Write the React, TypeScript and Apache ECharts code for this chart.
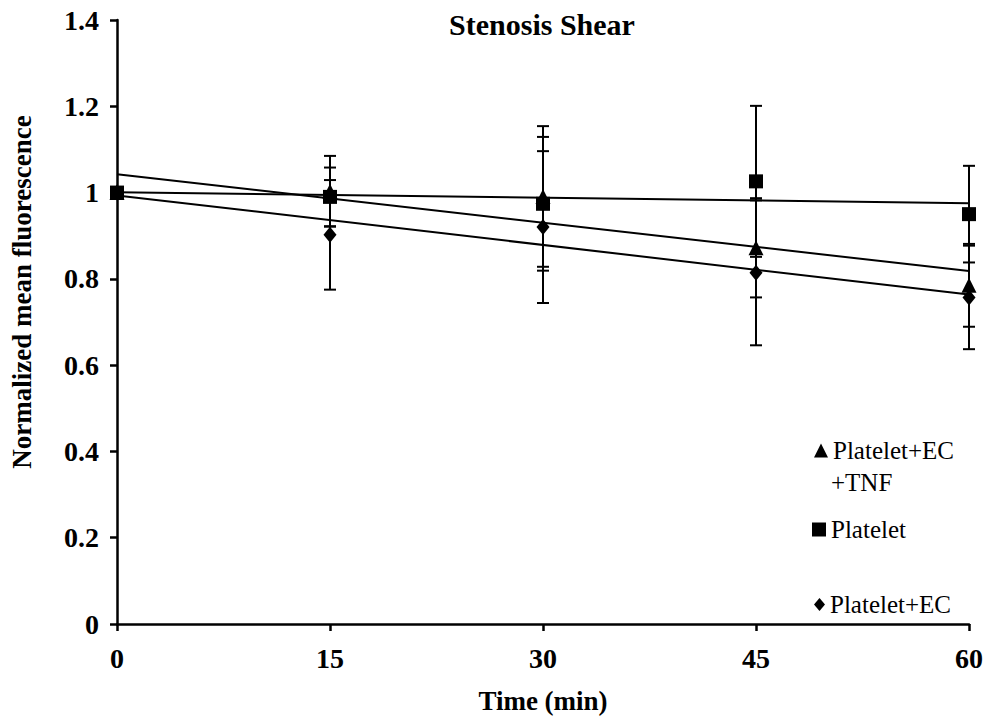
import React, { useEffect, useRef } from "react";
import * as echarts from "echarts";

const times = [0, 15, 30, 45, 60];
const xTicks = [0, 15, 30, 45, 60];
const tnfValues = [1, 1.003, 0.991, 0.872, 0.785];
const tnfErrors = [0, 0.082, 0.163, 0.115, 0.096];
const plateletValues = [1, 0.99, 0.974, 1.026, 0.95];
const plateletErrors = [0, 0.068, 0.155, 0.175, 0.112];
const ecValues = [1, 0.902, 0.92, 0.814, 0.757];
const ecErrors = [0, 0.127, 0.176, 0.168, 0.12];

const FONT = "Liberation Serif";

function fitLine(xs: number[], ys: number[]) {
  const n = xs.length;
  const mx = xs.reduce((a, b) => a + b, 0) / n;
  const my = ys.reduce((a, b) => a + b, 0) / n;
  let sxy = 0;
  let sxx = 0;
  for (let i = 0; i < n; i++) {
    sxy += (xs[i] - mx) * (ys[i] - my);
    sxx += (xs[i] - mx) * (xs[i] - mx);
  }
  const slope = sxy / sxx;
  const icpt = my - slope * mx;
  const x0 = Math.min(...xs);
  const x1 = Math.max(...xs);
  return [
    [x0, icpt + slope * x0],
    [x1, icpt + slope * x1],
  ];
}

function errorData(vals: number[], errs: number[]) {
  return times.map((t, i) => [t, vals[i] - errs[i], vals[i] + errs[i]]);
}

function errorRender(params: any, api: any) {
  const t = api.value(0);
  const lo = api.value(1);
  const hi = api.value(2);
  if (hi - lo <= 0) return null;
  const top = api.coord([t, hi]);
  const bot = api.coord([t, lo]);
  const hw = 6;
  const style = { stroke: "#000", lineWidth: 2 };
  return {
    type: "group",
    children: [
      { type: "line", shape: { x1: top[0], y1: top[1], x2: bot[0], y2: bot[1] }, style },
      { type: "line", shape: { x1: top[0] - hw, y1: top[1], x2: top[0] + hw, y2: top[1] }, style },
      { type: "line", shape: { x1: bot[0] - hw, y1: bot[1], x2: bot[0] + hw, y2: bot[1] }, style },
    ],
  };
}

export default function App() {
  const ref = useRef<HTMLDivElement>(null);
  useEffect(() => {
    if (!ref.current) return;
    const chart = echarts.init(ref.current, undefined, { renderer: "svg" });
    const seriesDefs = [
      { name: "Platelet+EC+TNF", vals: tnfValues, errs: tnfErrors, symbol: "triangle", size: 15 },
      { name: "Platelet", vals: plateletValues, errs: plateletErrors, symbol: "rect", size: 14 },
      { name: "Platelet+EC", vals: ecValues, errs: ecErrors, symbol: "diamond", size: [13, 16] },
    ];
    const series: any[] = [];
    seriesDefs.forEach((s) => {
      series.push({
        type: "custom",
        name: s.name + " error",
        renderItem: errorRender,
        data: errorData(s.vals, s.errs),
        encode: { x: 0, y: [1, 2] },
        z: 2,
        silent: true,
      });
      series.push({
        type: "line",
        name: s.name + " trend",
        data: fitLine(times, s.vals),
        showSymbol: false,
        symbol: "none",
        lineStyle: { color: "#000", width: 2 },
        z: 3,
        silent: true,
      });
    });
    seriesDefs.forEach((s) => {
      series.push({
        type: "scatter",
        name: s.name,
        data: times.map((t, i) => [t, s.vals[i]]),
        symbol: s.symbol,
        symbolSize: s.size,
        itemStyle: { color: "#000", opacity: 1 },
        z: 5,
      });
    });

    const legendText = { fontFamily: FONT, fontSize: 25, color: "#000" };
    chart.setOption({
      animation: false,
      backgroundColor: "#fff",
      title: {
        text: "Stenosis Shear",
        left: 537,
        top: 4,
        textAlign: "center",
        textStyle: { fontFamily: FONT, fontSize: 30, fontWeight: "bold", color: "#000" },
      },
      grid: { left: 116, right: 20, top: 20, bottom: 94, containLabel: false },
      legend: [
        {
          data: [{ name: "Platelet+EC+TNF", icon: "triangle", itemStyle: { color: "#000" } }],
          left: 809,
          top: 433,
          itemWidth: 14,
          itemHeight: 14,
          itemGap: 5,
          formatter: () => "Platelet+EC",
          textStyle: legendText,
        },
        {
          data: [{ name: "Platelet", icon: "rect", itemStyle: { color: "#000" } }],
          left: 807,
          top: 512,
          itemWidth: 14,
          itemHeight: 14,
          itemGap: 5,
          textStyle: legendText,
        },
        {
          data: [{ name: "Platelet+EC", icon: "diamond", itemStyle: { color: "#000" } }],
          left: 809,
          top: 587,
          itemWidth: 11,
          itemHeight: 13,
          itemGap: 6,
          textStyle: legendText,
        },
      ],
      graphic: [
        {
          type: "text",
          left: 831,
          top: 470,
          style: { text: "+TNF", font: "25px " + FONT, fill: "#000" },
        },
      ],
      xAxis: {
        type: "value",
        min: xTicks[0],
        max: xTicks[xTicks.length - 1],
        interval: 15,
        name: "Time (min)",
        nameLocation: "middle",
        nameGap: 63,
        nameTextStyle: { fontFamily: FONT, fontSize: 27, fontWeight: "bold", color: "#000" },
        axisLine: { lineStyle: { color: "#000", width: 2.5 } },
        axisTick: { show: true, inside: false, length: 7, lineStyle: { color: "#000", width: 2.5 } },
        axisLabel: { fontFamily: FONT, fontSize: 28, fontWeight: "bold", color: "#000", margin: 20 },
        splitLine: { show: false },
      },
      yAxis: {
        type: "value",
        min: 0,
        max: 1.4,
        interval: 0.2,
        name: "Normalized mean fluorescence",
        nameLocation: "middle",
        nameGap: 82,
        nameTextStyle: {
          fontFamily: FONT,
          fontSize: 27,
          fontWeight: "bold",
          color: "#000",
          padding: [0, 0, 0, 60],
        },
        axisLine: { show: true, lineStyle: { color: "#000", width: 2.5 } },
        axisTick: { show: true, inside: false, length: 7, lineStyle: { color: "#000", width: 2.5 } },
        axisLabel: {
          fontFamily: FONT,
          fontSize: 28,
          fontWeight: "bold",
          color: "#000",
          margin: 18,
          formatter: (v: number) => String(Math.round(v * 10) / 10),
        },
        splitLine: { show: false },
      },
      series,
    });
    return () => chart.dispose();
  }, []);
  return <div ref={ref} style={{ width: 989, height: 719, position: "absolute", left: 0, top: 0 }} />;
}
